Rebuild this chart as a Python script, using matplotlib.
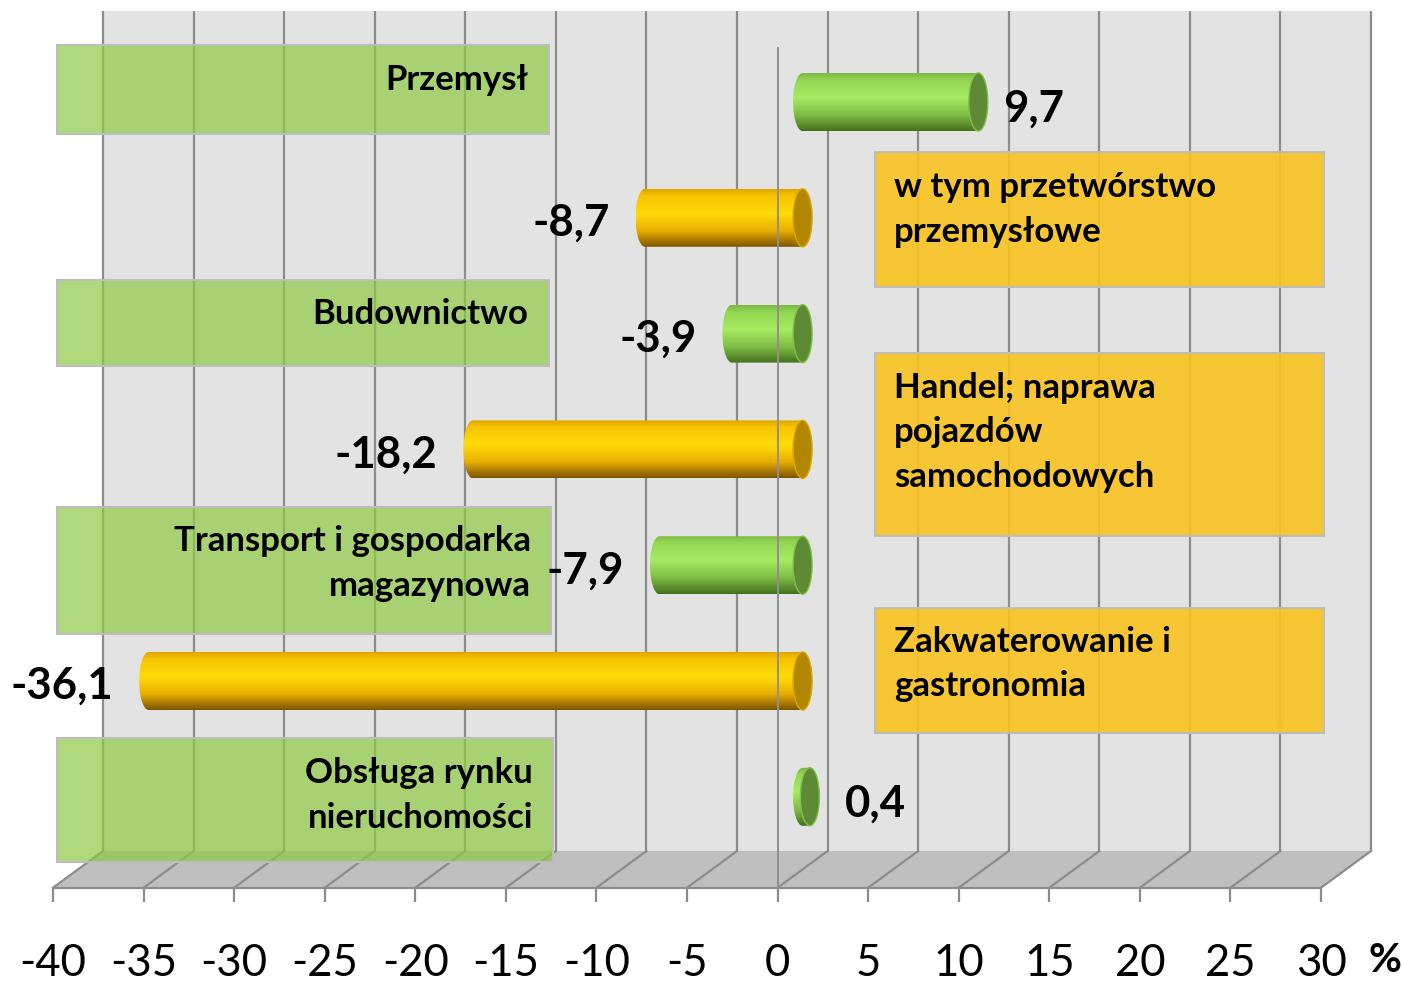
import numpy as np
import matplotlib
matplotlib.use("Agg")
import matplotlib.pyplot as plt
from matplotlib.patches import Polygon, Ellipse, Rectangle, PathPatch
from matplotlib.path import Path
from matplotlib.colors import to_rgba

plt.rcParams['font.family'] = ['Lato', 'DejaVu Sans']

# ---------------- data ----------------
categories = ["Przemysł",
              "w tym przetwórstwo\nprzemysłowe",
              "Budownictwo",
              "Handel; naprawa\npojazdów\nsamochodowych",
              "Transport i gospodarka\nmagazynowa",
              "Zakwaterowanie i\ngastronomia",
              "Obsługa rynku\nnieruchomości"]
values = [9.7, -8.7, -3.9, -18.2, -7.9, -36.1, 0.4]
series_color = ["green", "orange", "green", "orange", "green", "orange", "green"]
xticks = [-40, -35, -30, -25, -20, -15, -10, -5, 0, 5, 10, 15, 20, 25, 30]
unit_label = "%"

# ---------------- layout helpers ----------------
W, H = 1403, 981
PXU = 18.114          # pixels per percent unit
X0 = 777.6            # pixel of 0 on front edge
Y0 = 102.0            # pixel of first category centre
YS = 115.8            # pixels per category

def X(px):
    return (px - X0) / PXU

def Y(py):
    return (py - Y0) / YS

DX = 50 / PXU         # depth offset in x (units)
DXH = DX / 2          # bars sit at mid depth
BAR_H = 58 / YS
CAP_W = 19 / PXU

fig = plt.figure(figsize=(W / 100, H / 100), dpi=100)
ax = fig.add_axes([0, 0, 1, 1])
ax.set_axis_off()

xmin, xmax = xticks[0], xticks[-1]
grid_col = "#8c8c8c"

# back wall
ax.add_patch(Rectangle((xmin + DX, Y(11)), (xmax - xmin), Y(851) - Y(11),
                       facecolor="#e3e3e3", edgecolor="none", zorder=0))
# floor
ax.add_patch(Polygon([(xmin, Y(887.7)), (xmax, Y(887.7)), (xmax + DX, Y(851)), (xmin + DX, Y(851))],
                     closed=True, facecolor="#bfbfbf", edgecolor="none", zorder=0))
for t in xticks:
    ax.plot([t + DX, t + DX], [Y(11), Y(851)], color=grid_col, lw=1.6, zorder=1, solid_capstyle="butt")
    ax.plot([t, t + DX], [Y(887.7), Y(851)], color=grid_col, lw=1.6, zorder=1)
    ax.plot([t, t], [Y(887.7), Y(902)], color=grid_col, lw=1.6, zorder=1, solid_capstyle="butt")
    ax.text(t, Y(963), f"{t}", ha="center", va="center", fontsize=31.5, color="black")
ax.plot([xmin, xmax], [Y(887.7), Y(887.7)], color=grid_col, lw=1.6, zorder=1)
ax.text(X(1385), Y(961), unit_label, ha="center", va="center", fontsize=29,
        fontweight="bold", color="black")

# ---------------- label boxes ----------------
green_boxes = {0: (57, 45, 549, 134), 2: (57, 280, 549, 366),
               4: (57, 507, 551, 634), 6: (57, 738, 553, 862)}
orange_boxes = {1: (875, 152, 1324, 287), 3: (875, 353, 1324, 536),
                5: (875, 608, 1324, 733)}
green_text = {0: (528, 80), 2: (528, 314), 4: (531, 541), 6: (533, 773)}
orange_text = {1: (894, 187), 3: (894, 388), 5: (894, 642)}

for i, (l, t, r, b) in green_boxes.items():
    ax.add_patch(Rectangle((X(l), Y(t)), X(r) - X(l), Y(b) - Y(t),
                           facecolor=to_rgba("#8eca44", 0.70), edgecolor="#bdbdbd",
                           lw=1.5, zorder=2))
for i, (l, t, r, b) in orange_boxes.items():
    ax.add_patch(Rectangle((X(l), Y(t)), X(r) - X(l), Y(b) - Y(t),
                           facecolor=to_rgba("#f9c321", 0.90), edgecolor="#bdbdbd",
                           lw=1.5, zorder=2))

LINE = 44.5
CAT_FS = 25
for i, (px, py) in green_text.items():
    for k, line in enumerate(categories[i].split("\n")):
        ax.text(X(px), Y(py + k * LINE), line, ha="right", va="center",
                fontsize=CAT_FS, fontweight="bold", color="black", zorder=3)
for i, (px, py) in orange_text.items():
    for k, line in enumerate(categories[i].split("\n")):
        ax.text(X(px), Y(py + k * LINE), line, ha="left", va="center",
                fontsize=CAT_FS, fontweight="bold", color="black", zorder=3)

# ---------------- cylinders ----------------
grad_stops = {
    "green": [(0.0, "#7fb846"), (0.12, "#92d653"), (0.42, "#a8ec62"),
              (0.72, "#7fbd45"), (1.0, "#44701f")],
    "orange": [(0.0, "#e0a600"), (0.12, "#f7c400"), (0.42, "#ffdc0a"),
               (0.72, "#e8ae00"), (1.0, "#7d5400")],
}
cap_col = {"green": "#5e8a35", "orange": "#b38600"}
rim_col = {"green": "#7fbf48", "orange": "#d9a800"}

def gradient(name, n=200):
    stops = grad_stops[name]
    pos = [s[0] for s in stops]
    cols = np.array([to_rgba(s[1]) for s in stops])
    tt = np.linspace(0, 1, n)
    arr = np.stack([np.interp(tt, pos, cols[:, c]) for c in range(4)], axis=1)
    return arr[:, None, :]

for i, v in enumerate(values):
    yc = i
    xl = min(0, v) + DXH
    xr = max(0, v) + DXH
    rx = CAP_W / 2
    ry = BAR_H / 2
    th = np.linspace(np.pi / 2, 3 * np.pi / 2, 60)
    ell = [(xl + rx * np.cos(a), yc - ry * np.sin(a)) for a in th]
    verts = [(xr, yc - ry)] + ell + [(xr, yc + ry), (xr, yc - ry)]
    codes = [Path.MOVETO] + [Path.LINETO] * (len(verts) - 2) + [Path.CLOSEPOLY]
    body = PathPatch(Path(verts, codes), facecolor="none", edgecolor="none", zorder=4)
    ax.add_patch(body)
    im = ax.imshow(gradient(series_color[i]), extent=(xl - rx, xr + 0.01, yc + ry, yc - ry),
                   origin="upper", aspect="auto", interpolation="bilinear", zorder=4)
    im.set_clip_path(body)
    ax.add_patch(Ellipse((xr, yc), CAP_W, BAR_H, facecolor=cap_col[series_color[i]],
                         edgecolor=rim_col[series_color[i]], lw=1.0, zorder=5))
    # value label
    txt = f"{v:.1f}".replace(".", ",")
    if v >= 0:
        gap = 15 if v > 5 else 26
        ax.text(xr + rx + gap / PXU, yc + 7 / YS, txt, ha="left", va="center",
                fontsize=31.5, fontweight="bold", color="black", zorder=6)
    else:
        ax.text(xl - rx - 26 / PXU, yc + 5 / YS, txt, ha="right", va="center",
                fontsize=31.5, fontweight="bold", color="black", zorder=6)

# zero line on the front plane, in front of bars
ax.plot([0, 0], [Y(48), Y(887.7)], color="#909090", lw=1.4, zorder=7)

ax.set_xlim(X(0), X(W))
ax.set_ylim(Y(H), Y(0))
ax.set_aspect("auto")

fig.savefig("out.png", dpi=100, facecolor="white")
